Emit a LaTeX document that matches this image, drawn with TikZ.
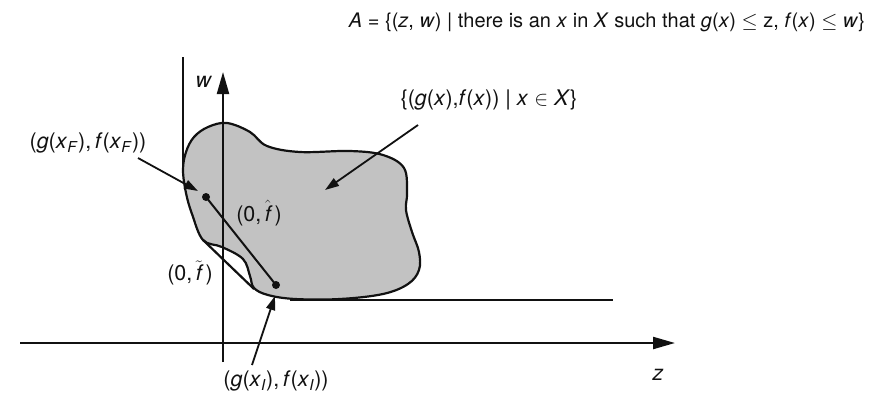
\documentclass[tikz,border=0pt]{standalone}
\usepackage{fontspec}
\setmainfont{TeX Gyre Heros}
\usepackage{tikz}
\usetikzlibrary{arrows.meta, positioning, calc}
\definecolor{inkdark}{HTML}{111111}
\definecolor{setgray}{HTML}{C2C2C2}
\newcommand{\iv}[1]{\textit{#1}}
\tikzset{
  lbl/.style={font=\fontsize{20}{23}\selectfont, text=inkdark, inner sep=1pt},
  tag/.style={lbl, font=\fontsize{21.5}{24}\selectfont},
  axis/.style={-{Triangle[length=22pt, width=12pt]}, line width=2.2pt, draw=inkdark},
  edge/.style={line width=2.2pt, draw=inkdark},
  pointer/.style={-{Triangle[length=14pt, width=9pt]}, line width=1.8pt, draw=inkdark},
  pt/.style={circle, fill=inkdark, inner sep=0pt, minimum size=8pt},
}
\begin{document}
\begin{tikzpicture}[x=1pt, y=-1pt]
  \useasboundingbox (0,0) rectangle (875,405);
  % the set of attainable points
  \filldraw[edge, fill=setgray] plot[smooth cycle, tension=0.6] coordinates {
    (227,123) (250,132) (267,146) (300,152) (350,151) (383,155) (404,168)
    (407,193) (406,210) (412,232) (419,252) (419,270) (408,284) (383,294)
    (340,299) (295,299) (268,295) (254,288) (250,276) (243,259) (222,247)
    (203,240) (192,214) (186,193) (183,170) (186,152) (194,137) (208,127)};
  % boundary of A
  \draw[edge] (183,57) -- (183,168);
  \draw[edge] (203,240) -- (254,289);
  \draw[edge] (290,300) -- (613,300);
  % axes
  \coordinate (zo) at (20,343);
  \coordinate (zend) at (675,343);
  \coordinate (wo) at (223,362);
  \coordinate (wend) at (223,72);
  \draw[axis] (zo) -- (zend);
  \draw[axis] (wo) -- (wend);
  \node[tag] (wlab) at (204,82) {\iv{w}};
  \node[tag] (zlab) at (658,375) {\iv{z}};
  % points x_F and x_I
  \node[pt] (xF) at (206,197) {};
  \node[pt] (xI) at (276,285) {};
  \draw[edge, line width=2pt] (xF.center) -- (xI.center);
  % labels
  \node[lbl] (defA) at (607,22) {\iv{A} = \{(\iv{z}, \iv{w}) | there is an \iv{x} in \iv{X} such that \iv{g}(\iv{x}) $\leq$ z, \iv{f}(\iv{x}) $\leq$ \iv{w}\}};
  \node[tag] (setlab) at (489,100) {\{(\iv{g}(\iv{x}),\iv{f}(\iv{x})) | \iv{x} $\in$ \iv{X}\}};
  \node[tag] (lblF) at (88,143) {(\iv{g}(\iv{x}\textsubscript{\iv{F}}),\,\iv{f}(\iv{x}\textsubscript{\iv{F}}))};
  \node[tag] (lblI) at (276,381) {(\iv{g}(\iv{x}\textsubscript{\iv{I}}),\,\iv{f}(\iv{x}\textsubscript{\iv{I}}))};
  \node[tag, inner sep=0pt] (fhat) at (259,213) {(0,\,$\hat{\mbox{\itshape f}}$\,)};
  \node[tag, inner sep=0pt] (ftil) at (190,273) {(0,\,$\tilde{\mbox{\itshape f}}$\,)};
  % pointers
  \coordinate (sF) at (138,158);
  \coordinate (tF) at (198,191);
  \coordinate (sS) at (418,125);
  \coordinate (tS) at (325,190);
  \coordinate (sI) at (252,365);
  \coordinate (tI) at (275,296);
  \draw[pointer] (sF) -- (tF);
  \draw[pointer] (sS) -- (tS);
  \draw[pointer] (sI) -- (tI);
\end{tikzpicture}
\end{document}
